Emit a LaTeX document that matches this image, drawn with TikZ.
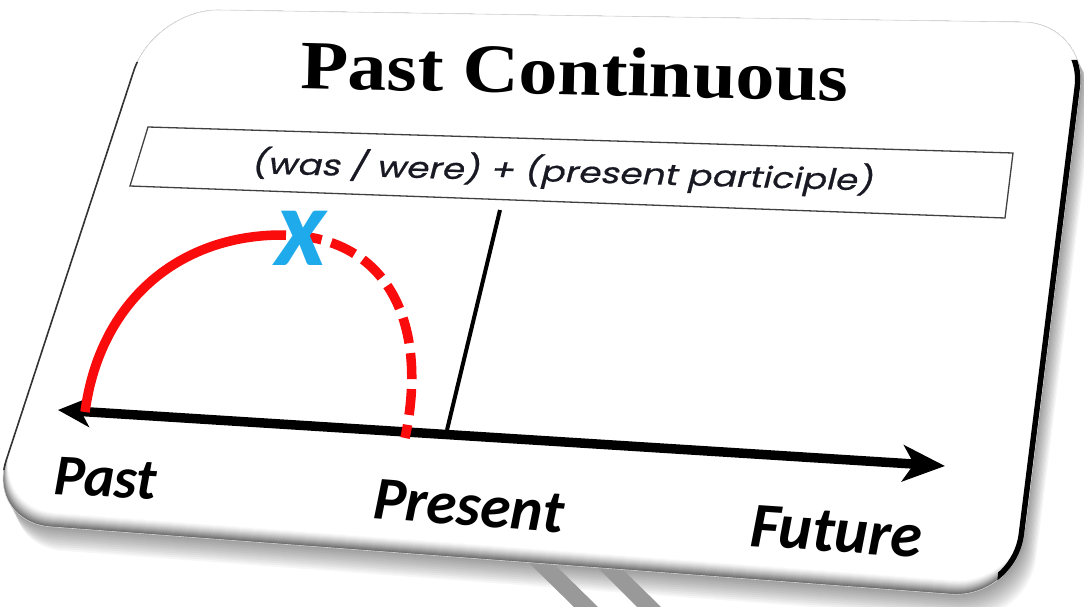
\documentclass[tikz,border=0pt]{standalone}
\usepackage{fontspec}
\setmainfont{Liberation Serif}
\newfontfamily\labelfont{Carlito}
\newfontfamily\formfont[FakeSlant=0.18,FakeBold=0.6]{Poppins}
\usetikzlibrary{arrows.meta}
\definecolor{xblue}{RGB}{30,170,235}
\definecolor{arcred}{RGB}{250,12,12}
\definecolor{formtext}{RGB}{25,25,35}
\def\silpath{(600,16) -- (1088,23) -- (1016,599) -- (-14,522) -- (154,9) -- cycle}
\begin{document}
\begin{tikzpicture}[x=1pt,y=-1pt,
  card/.style={rounded corners=65pt},
  lbl/.style={font=\labelfont\bfseries\itshape, inner sep=0pt, anchor=base west},
  axis/.style={line width=9.5pt},
  redline/.style={arcred, line width=9.5pt},
  reddash/.style={arcred, line width=9.5pt, dash pattern=on 26pt off 10pt, dash phase=-14pt},
]
\useasboundingbox (0,0) rectangle (1084,607);
\fill[white] (0,0) rectangle (1084,607);
% soft shadow
\foreach \i in {1,...,12}{
  \fill[black, opacity=0.035, card, shift={(1.0*\i,2.0*\i)}] \silpath;
}
% stripes under the card
\fill[black!40] (526,560) -- (550,560) -- (598,607) -- (574,607) -- cycle;
\fill[black!40] (590,560) -- (613,560) -- (661,607) -- (637,607) -- cycle;
% card with bottom bevel
\foreach \i in {0,...,14}{
  \pgfmathsetmacro\t{1-\i/14}
  \pgfmathsetmacro\brx{1018-2*\t}
  \pgfmathsetmacro\bry{585+14*\t}
  \pgfmathsetmacro\blx{-9-5*\t}
  \pgfmathsetmacro\bly{508+14*\t}
  \pgfmathsetmacro\g{58*\t^1.3}
  \fill[black!\g, card] (600,16) -- (1088,23) -- (\brx,\bry) -- (\blx,\bly) -- (154,9) -- cycle;
}
\draw[black!18, line width=0.6pt, card] \silpath;
% right dark edge
\begin{scope}
  \clip[card] \silpath;
  \clip (1040,60) -- (1100,60) -- (1100,610) -- (995,610) -- cycle;
  \draw[black, line width=11pt, card] \silpath;
\end{scope}
% left thin edge
\begin{scope}
  \clip (-20,62) -- (150,62) -- (45,470) -- (-20,470) -- cycle;
  \draw[black!80, line width=1.6pt, card] \silpath;
\end{scope}

% title
\node[font=\bfseries, inner sep=0pt, anchor=base west, rotate=-1.4, xscale=1.13]
  (title) at (300,88) {\fontsize{69}{70}\selectfont Past Continuous};

% formula box
\coordinate (fb1) at (148,127);
\coordinate (fb2) at (1013,153);
\coordinate (fb3) at (1005,218);
\coordinate (fb4) at (130,186);
\draw[black!75, line width=1.3pt, line join=miter] (fb1) -- (fb2) -- (fb3) -- (fb4) -- cycle;
\node[font=\formfont, text=formtext, inner sep=0pt, rotate=-1.6, xscale=1.24]
  (formula) at (562,172) {\fontsize{29}{32}\selectfont (was / were) + (present participle)};

% present line
\coordinate (vtop) at (500,210);
\coordinate (vbot) at (447,430);
\draw[line width=4pt] (vtop) -- (vbot);

% time axis
\coordinate (axl) at (58,410);
\coordinate (axr) at (945,466);
\draw[axis, {Stealth[length=32pt,width=30pt,inset=9pt]}-{Stealth[length=42pt,width=36pt,inset=11pt]}] (axl) -- (axr);

% red arc
\coordinate (a0) at (85,412);
\coordinate (apk) at (282,235);
\coordinate (a1) at (405,438);
\draw[redline] (a0) .. controls (100,300) and (180,235) .. (apk);
\draw[reddash] (apk) .. controls (385,235) and (430,320) .. (a1);
\node[font=\labelfont\bfseries\itshape, text=xblue, inner sep=0pt]
  (xmark) at (301,238) {\fontsize{112}{112}\selectfont x};

% labels
\node[lbl, rotate=-3] (past) at (53,494) {\fontsize{58}{60}\selectfont Past};
\node[lbl, rotate=-4.5] (present) at (372,518) {\fontsize{61}{63}\selectfont Present};
\node[lbl, rotate=-3.9] (future) at (749,546) {\fontsize{64}{66}\selectfont Future};
\end{tikzpicture}
\end{document}
